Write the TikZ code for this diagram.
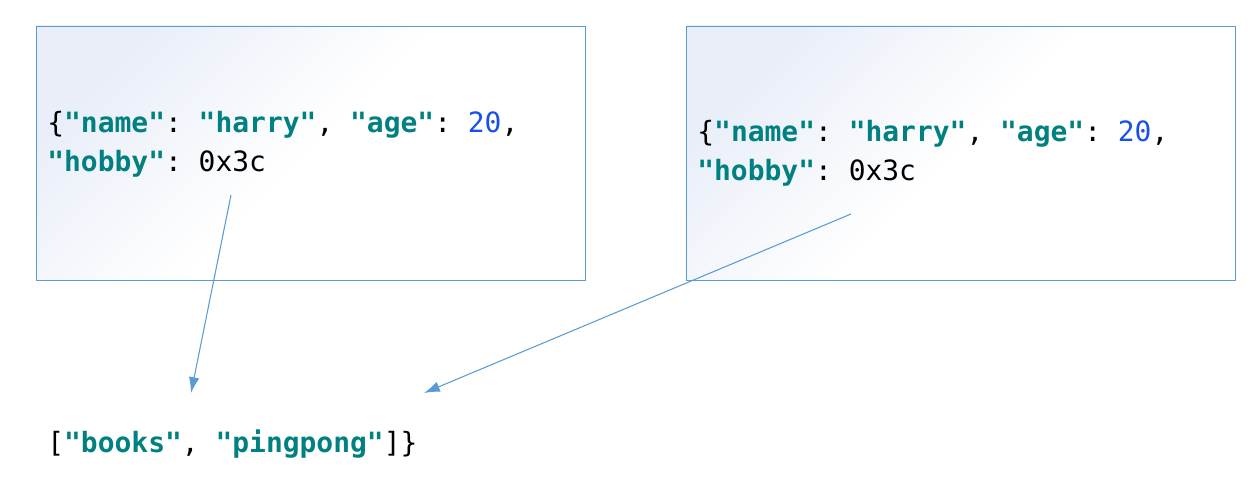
\documentclass[tikz,border=0pt]{standalone}
\usepackage{fontspec}
\setmonofont{DejaVu Sans Mono}
\usepackage{tikz}
\usetikzlibrary{arrows.meta,positioning}
\definecolor{boxline}{HTML}{5B9BD5}
\definecolor{boxtint}{HTML}{E9EEF8}
\definecolor{keyteal}{HTML}{008080}
\definecolor{numblue}{HTML}{1750EB}
\tikzset{
  objbox/.style={draw=boxline,top color=boxtint,bottom color=white,middle color=white,shading angle=45,
    minimum width=10.98cm,minimum height=5.08cm,inner sep=0pt},
  code/.style={inner sep=0pt,anchor=base west,font=\ttfamily\fontsize{15.9}{18}\selectfont},
  ptr/.style={draw=boxline,line width=0.6pt,-{Latex[length=9pt,width=6pt]}},
  every node/.style={font=\ttfamily}
}
\newcommand{\jkey}[1]{\textcolor{keyteal}{\textbf{"#1"}}}

\begin{document}
\begin{tikzpicture}
  \useasboundingbox (0,0) rectangle (25.02,10);
  % the two objects
  \node[objbox] (left) at (6.21,6.94) {};
  \node[objbox] (right) at (19.22,6.94) {};
  \node[code] (leftA) at (0.94,7.34) {\{\jkey{name}: \jkey{harry}, \jkey{age}: \textcolor{numblue}{20},};
  \node[code] (leftB) at (0.94,6.56) {\jkey{hobby}: 0x3c};
  \node[code] (rightA) at (13.94,7.16) {\{\jkey{name}: \jkey{harry}, \jkey{age}: \textcolor{numblue}{20},};
  \node[code] (rightB) at (13.94,6.38) {\jkey{hobby}: 0x3c};
  % shared list
  \node[code] (list) at (0.94,0.94) {[\jkey{books}, \jkey{pingpong}]\}};
  \coordinate (fromL) at (4.62,6.1);
  \coordinate (toL) at (3.82,2.14);
  \coordinate (fromR) at (17.02,5.72);
  \coordinate (toR) at (8.48,2.14);
  \draw[ptr] (fromL) -- (toL);
  \draw[ptr] (fromR) -- (toR);
\end{tikzpicture}
\end{document}
